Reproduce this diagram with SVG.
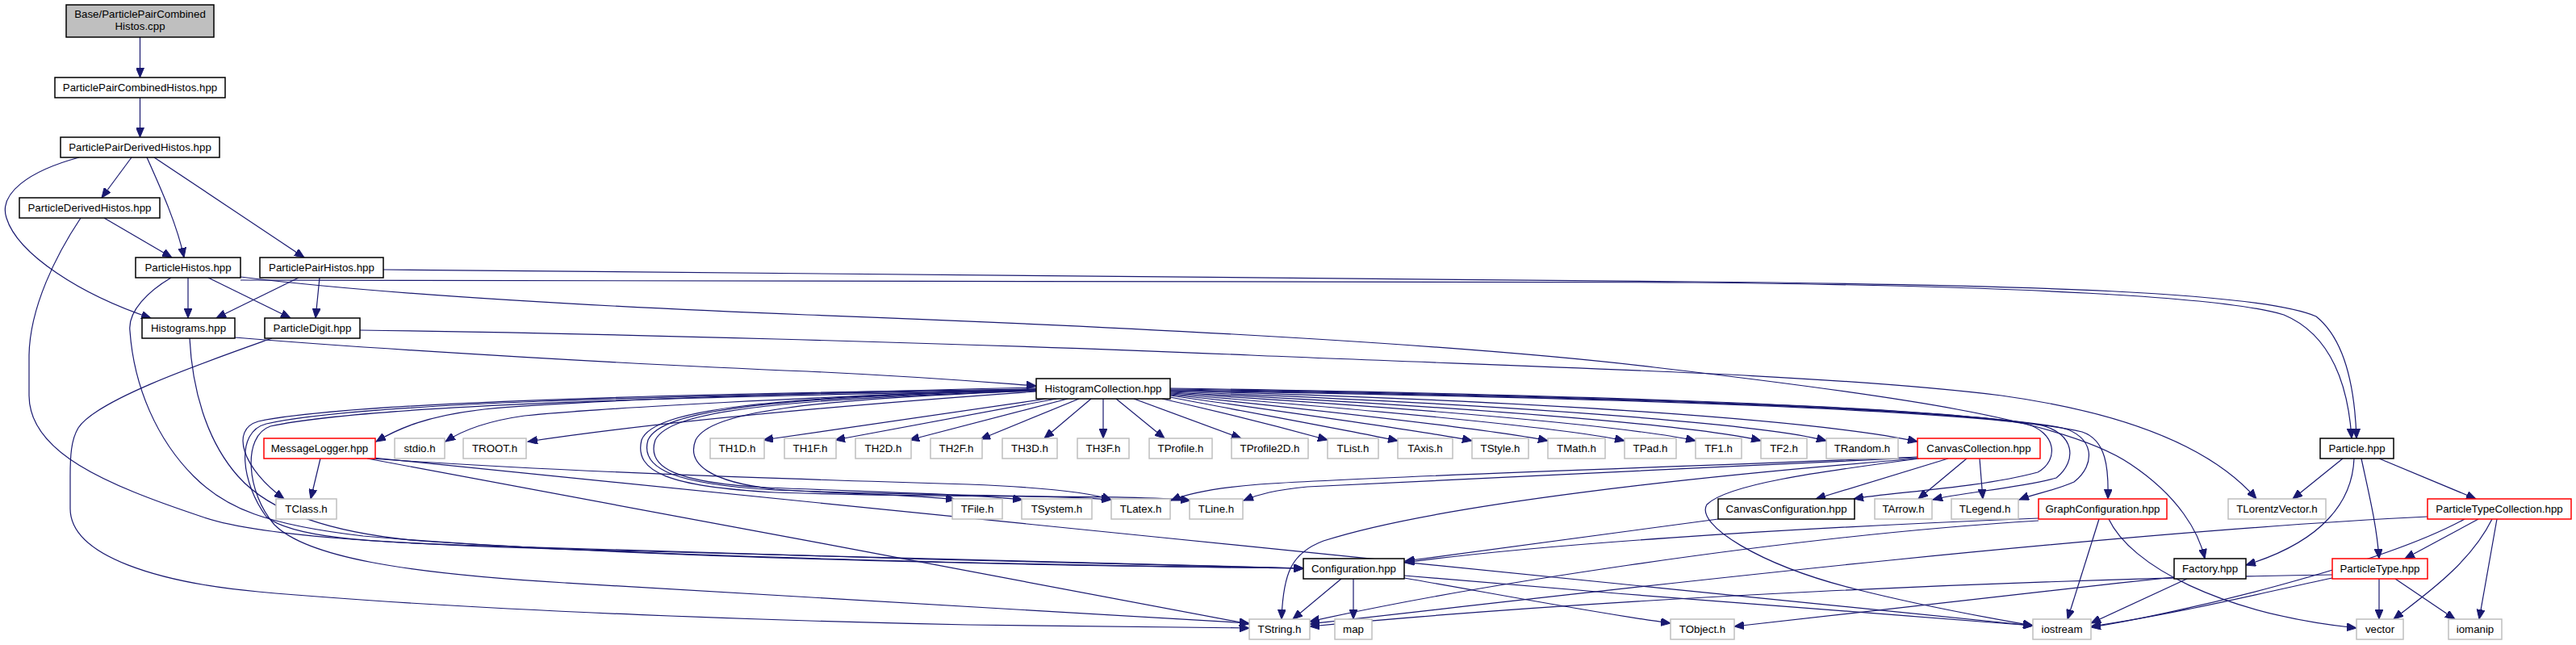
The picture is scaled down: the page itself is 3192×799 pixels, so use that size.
<svg xmlns="http://www.w3.org/2000/svg" width="3192" height="799" viewBox="0 0 3192 799">
<style>
.n rect{fill:#fff;stroke-width:1.5}
.b rect{stroke:#000}
.g rect{stroke:#bfbfbf}
.r rect{stroke:#ff0000}
text{font-family:"Liberation Sans",Arial,Helvetica,sans-serif;font-size:13.3px;fill:#000;text-anchor:middle}
#edges path{fill:none;stroke:#191970;stroke-width:1.2;marker-end:url(#ah)}
</style>
<defs>
<marker id="ah" markerUnits="userSpaceOnUse" markerWidth="13" markerHeight="10" refX="12" refY="5" orient="auto">
<path d="M0,0 L12,5 L0,10 z" fill="#191970" stroke="#191970" stroke-width="1"/>
</marker>
</defs>
<rect width="3192" height="799" fill="#fff"/>
<g id="edges">
<path d="M173.5,46 L173.5,96"/>
<path d="M173.5,121 L173.5,170"/>
<path d="M163,195 L126,245"/>
<path d="M182,195 C200,235 220,280 228,319"/>
<path d="M191,195 L377,319"/>
<path d="M98,195 C35,212 -2,240 8,270 C22,315 100,365 187,394"/>
<path d="M129,270 L213,319"/>
<path d="M100,270 C70,315 37,380 36,440 L36,490 C36,560 130,600 250,640 C320,665 500,676 800,683 C1100,690 1400,700 1615,704"/>
<path d="M233,344 L233,394"/>
<path d="M258,344 L360,394"/>
<path d="M212,344 C185,360 158,385 161,410 C166,480 195,545 240,590 C280,630 330,650 450,664 C750,690 1250,700 1615,704"/>
<path d="M235,419 C238,480 255,545 295,590 C335,635 410,660 520,670 C850,692 1300,700 1615,704"/>
<path d="M298,347 C900,348 1500,346 2100,350 C2500,354 2760,368 2830,390 C2890,415 2910,480 2914,543"/>
<path d="M475,334 C900,336 1500,344 2100,349 C2520,353 2800,362 2870,392 C2905,420 2918,480 2920,543"/>
<path d="M298,343 C450,362 700,378 1000,390 C1400,405 1800,425 2050,455 C2350,490 2560,520 2640,575 C2700,615 2725,660 2732,692"/>
<path d="M446,409 C700,412 1200,425 1550,440 C1900,455 2250,462 2480,490 C2660,515 2750,565 2796,618"/>
<path d="M337,419 C250,450 120,495 97,530 C88,545 87,565 87,590 L87,630 C87,690 200,722 320,733 C600,758 1000,770 1200,774 C1350,776 1480,777 1548,778"/>
<path d="M291,418 C500,435 800,452 1000,460 C1150,467 1230,474 1284,478"/>
<path d="M370,344 L268,394"/>
<path d="M396,344 L391,394"/>
<path d="M1284,480 C1000,486 700,497 600,507 C530,515 495,530 466,547"/>
<path d="M1284,482 C1000,492 750,505 650,515 C600,522 570,535 552,547"/>
<path d="M1284,485 C1000,505 800,525 654,547"/>
<path d="M1284,482 C800,488 420,500 320,522 C285,532 300,580 352,618"/>
<path d="M1284,483 C800,490 440,500 330,525 C290,535 300,600 330,640 C360,665 450,672 600,676 C900,686 1300,698 1615,704"/>
<path d="M1284,484 C800,492 450,503 335,528 C300,540 305,610 340,650 C380,690 500,710 700,722 C1000,740 1300,760 1548,772"/>
<path d="M1284,484 C1000,495 880,510 862,545 C850,575 880,597 960,606 C1050,613 1130,612 1184,619"/>
<path d="M1284,484 C950,495 830,510 812,545 C800,580 840,598 950,604 C1100,610 1200,612 1267,619"/>
<path d="M1284,483 C950,493 820,508 803,545 C792,582 840,600 960,607 C1150,615 1300,612 1377,619"/>
<path d="M1284,482 C950,492 810,507 795,545 C785,585 830,603 960,610 C1200,618 1400,612 1475,620"/>
<path d="M1297,494 L946,545"/>
<path d="M1309,494 L1035,545"/>
<path d="M1323,494 L1127,545"/>
<path d="M1337,494 L1215,544"/>
<path d="M1352,494 L1294,543"/>
<path d="M1367,494 L1367,543"/>
<path d="M1383,494 L1443,543"/>
<path d="M1405,494 L1538,543"/>
<path d="M1440,494 C1520,512 1590,530 1645,545"/>
<path d="M1450,492 C1570,515 1680,535 1732,546"/>
<path d="M1450,490 C1600,512 1760,533 1824,546"/>
<path d="M1450,489 C1650,510 1850,532 1918,546"/>
<path d="M1450,488 C1700,508 1940,530 2013,546"/>
<path d="M1450,487 C1750,505 2020,528 2101,546"/>
<path d="M1450,486 C1800,503 2100,526 2182,546"/>
<path d="M1450,485 C1850,500 2180,524 2263,546"/>
<path d="M1450,484 C1900,496 2250,520 2376,547"/>
<path d="M1450,481 C1900,488 2380,502 2510,525 C2548,535 2552,570 2525,585 C2450,605 2340,610 2297,618"/>
<path d="M1450,482 C1900,489 2400,503 2530,527 C2570,537 2575,570 2548,592 C2500,605 2430,610 2395,619"/>
<path d="M1450,483 C1900,490 2420,504 2555,530 C2595,540 2598,575 2570,597 C2545,608 2520,612 2502,619"/>
<path d="M1450,484 C1900,491 2450,505 2580,535 C2610,545 2613,580 2612,618"/>
<path d="M2414,568 L2250,618"/>
<path d="M2437,568 L2377,618"/>
<path d="M2453,568 L2457,618"/>
<path d="M2376,566 C2100,578 1700,590 1560,600 C1500,605 1470,612 1451,620"/>
<path d="M2376,567 C2100,580 1750,595 1620,603 C1580,607 1560,612 1541,620"/>
<path d="M2377,568 C2100,590 1780,625 1640,670 C1600,685 1590,710 1588,767"/>
<path d="M2378,568 C2250,585 2140,600 2115,625 C2100,650 2180,700 2300,730 C2400,755 2480,768 2519,775"/>
<path d="M397,568 L385,618"/>
<path d="M460,568 C700,585 1000,594 1200,600 C1300,604 1350,610 1377,619"/>
<path d="M455,568 C800,632 1200,707 1548,773"/>
<path d="M462,567 C1100,632 1900,712 2519,775"/>
<path d="M1662,717 L1602,767"/>
<path d="M1677,717 L1677,767"/>
<path d="M1740,716 C1850,735 1980,760 2070,772"/>
<path d="M1740,713 C2000,735 2300,760 2519,775"/>
<path d="M2129,643 L1741,695"/>
<path d="M2526,642 C2200,655 1900,675 1741,697"/>
<path d="M2526,645 C2200,665 1800,730 1623,770"/>
<path d="M2601,643 L2562,767"/>
<path d="M2613,643 C2640,700 2750,760 2920,778"/>
<path d="M2710,717 L2591,772"/>
<path d="M2694,715 C2500,735 2300,760 2149,776"/>
<path d="M2890,716 C2800,735 2700,760 2591,776"/>
<path d="M2948,717 L2948,767"/>
<path d="M2968,717 L3042,767"/>
<path d="M2890,712 C2500,718 2000,740 1623,776"/>
<path d="M3008,640 C2600,660 2000,730 1623,773"/>
<path d="M3054,643 C2950,700 2700,760 2591,777"/>
<path d="M3071,643 L2980,692"/>
<path d="M3088,643 C3060,700 3000,740 2966,767"/>
<path d="M3094,643 L3072,767"/>
<path d="M2903,568 L2841,618"/>
<path d="M2917,568 C2915,620 2880,670 2783,700"/>
<path d="M2926,568 C2935,610 2945,650 2948,692"/>
<path d="M2948,568 L3068,618"/>
</g>
<g id="n_cpp" class="n b"><rect x="82" y="6" width="183" height="40" style="fill:#bfbfbf"/><text x="173.5" y="22">Base/ParticlePairCombined</text><text x="173.5" y="37">Histos.cpp</text></g>
<g id="n_ppc" class="n b"><rect x="68" y="96" width="211" height="25"/><text x="173.5" y="113">ParticlePairCombinedHistos.hpp</text></g>
<g id="n_ppd" class="n b"><rect x="75" y="170" width="197" height="25"/><text x="173.5" y="187">ParticlePairDerivedHistos.hpp</text></g>
<g id="n_pd" class="n b"><rect x="24" y="245" width="174" height="25"/><text x="111" y="262">ParticleDerivedHistos.hpp</text></g>
<g id="n_ph" class="n b"><rect x="168" y="319" width="130" height="25"/><text x="233" y="336">ParticleHistos.hpp</text></g>
<g id="n_pph" class="n b"><rect x="322" y="319" width="153" height="25"/><text x="398.5" y="336">ParticlePairHistos.hpp</text></g>
<g id="n_hist" class="n b"><rect x="176" y="394" width="115" height="25"/><text x="233.5" y="411">Histograms.hpp</text></g>
<g id="n_pdig" class="n b"><rect x="328" y="394" width="118" height="25"/><text x="387" y="411">ParticleDigit.hpp</text></g>
<g id="n_hc" class="n b"><rect x="1284" y="469" width="166" height="25"/><text x="1367" y="486">HistogramCollection.hpp</text></g>
<g id="n_ml" class="n r"><rect x="327" y="543" width="138" height="25"/><text x="396" y="560">MessageLogger.hpp</text></g>
<g id="n_stdio" class="n g"><rect x="489" y="543" width="62" height="25"/><text x="520" y="560">stdio.h</text></g>
<g id="n_troot" class="n g"><rect x="574" y="543" width="78" height="25"/><text x="613" y="560">TROOT.h</text></g>
<g id="n_th1d" class="n g"><rect x="880" y="543" width="67" height="25"/><text x="913.5" y="560">TH1D.h</text></g>
<g id="n_th1f" class="n g"><rect x="972" y="543" width="64" height="25"/><text x="1004" y="560">TH1F.h</text></g>
<g id="n_th2d" class="n g"><rect x="1060" y="543" width="69" height="25"/><text x="1094.5" y="560">TH2D.h</text></g>
<g id="n_th2f" class="n g"><rect x="1153" y="543" width="64" height="25"/><text x="1185" y="560">TH2F.h</text></g>
<g id="n_th3d" class="n g"><rect x="1242" y="543" width="68" height="25"/><text x="1276" y="560">TH3D.h</text></g>
<g id="n_th3f" class="n g"><rect x="1335" y="543" width="64" height="25"/><text x="1367" y="560">TH3F.h</text></g>
<g id="n_tprof" class="n g"><rect x="1424" y="543" width="78" height="25"/><text x="1463" y="560">TProfile.h</text></g>
<g id="n_tprof2d" class="n g"><rect x="1526" y="543" width="95" height="25"/><text x="1573.5" y="560">TProfile2D.h</text></g>
<g id="n_tlist" class="n g"><rect x="1645" y="543" width="63" height="25"/><text x="1676.5" y="560">TList.h</text></g>
<g id="n_taxis" class="n g"><rect x="1732" y="543" width="68" height="25"/><text x="1766" y="560">TAxis.h</text></g>
<g id="n_tstyle" class="n g"><rect x="1824" y="543" width="70" height="25"/><text x="1859" y="560">TStyle.h</text></g>
<g id="n_tmath" class="n g"><rect x="1918" y="543" width="71" height="25"/><text x="1953.5" y="560">TMath.h</text></g>
<g id="n_tpad" class="n g"><rect x="2013" y="543" width="64" height="25"/><text x="2045" y="560">TPad.h</text></g>
<g id="n_tf1" class="n g"><rect x="2101" y="543" width="57" height="25"/><text x="2129.5" y="560">TF1.h</text></g>
<g id="n_tf2" class="n g"><rect x="2182" y="543" width="57" height="25"/><text x="2210.5" y="560">TF2.h</text></g>
<g id="n_trandom" class="n g"><rect x="2263" y="543" width="89" height="25"/><text x="2307.5" y="560">TRandom.h</text></g>
<g id="n_cc" class="n r"><rect x="2376" y="543" width="152" height="25"/><text x="2452" y="560">CanvasCollection.hpp</text></g>
<g id="n_particle" class="n b"><rect x="2875" y="543" width="91" height="25"/><text x="2920.5" y="560">Particle.hpp</text></g>
<g id="n_tclass" class="n g"><rect x="342" y="618" width="75" height="25"/><text x="379.5" y="635">TClass.h</text></g>
<g id="n_tfile" class="n g"><rect x="1180" y="618" width="62" height="25"/><text x="1211" y="635">TFile.h</text></g>
<g id="n_tsystem" class="n g"><rect x="1266" y="618" width="87" height="25"/><text x="1309.5" y="635">TSystem.h</text></g>
<g id="n_tlatex" class="n g"><rect x="1377" y="618" width="73" height="25"/><text x="1413.5" y="635">TLatex.h</text></g>
<g id="n_tline" class="n g"><rect x="1474" y="618" width="66" height="25"/><text x="1507" y="635">TLine.h</text></g>
<g id="n_ccfg" class="n b"><rect x="2129" y="618" width="169" height="25"/><text x="2213.5" y="635">CanvasConfiguration.hpp</text></g>
<g id="n_tarrow" class="n g"><rect x="2323" y="618" width="71" height="25"/><text x="2358.5" y="635">TArrow.h</text></g>
<g id="n_tlegend" class="n g"><rect x="2418" y="618" width="83" height="25"/><text x="2459.5" y="635">TLegend.h</text></g>
<g id="n_gcfg" class="n r"><rect x="2526" y="618" width="159" height="25"/><text x="2605.5" y="635">GraphConfiguration.hpp</text></g>
<g id="n_tlv" class="n g"><rect x="2761" y="618" width="121" height="25"/><text x="2821.5" y="635">TLorentzVector.h</text></g>
<g id="n_ptc" class="n r"><rect x="3008" y="618" width="178" height="25"/><text x="3097" y="635">ParticleTypeCollection.hpp</text></g>
<g id="n_cfg" class="n b"><rect x="1615" y="692" width="125" height="25"/><text x="1677.5" y="709">Configuration.hpp</text></g>
<g id="n_factory" class="n b"><rect x="2694" y="692" width="89" height="25"/><text x="2738.5" y="709">Factory.hpp</text></g>
<g id="n_ptype" class="n r"><rect x="2890" y="692" width="118" height="25"/><text x="2949" y="709">ParticleType.hpp</text></g>
<g id="n_tstring" class="n g"><rect x="1548" y="767" width="75" height="25"/><text x="1585.5" y="784">TString.h</text></g>
<g id="n_map" class="n g"><rect x="1654" y="767" width="46" height="25"/><text x="1677" y="784">map</text></g>
<g id="n_tobject" class="n g"><rect x="2070" y="767" width="79" height="25"/><text x="2109.5" y="784">TObject.h</text></g>
<g id="n_iostream" class="n g"><rect x="2519" y="767" width="72" height="25"/><text x="2555" y="784">iostream</text></g>
<g id="n_vector" class="n g"><rect x="2920" y="767" width="58" height="25"/><text x="2949" y="784">vector</text></g>
<g id="n_iomanip" class="n g"><rect x="3034" y="767" width="66" height="25"/><text x="3067" y="784">iomanip</text></g>
</svg>
